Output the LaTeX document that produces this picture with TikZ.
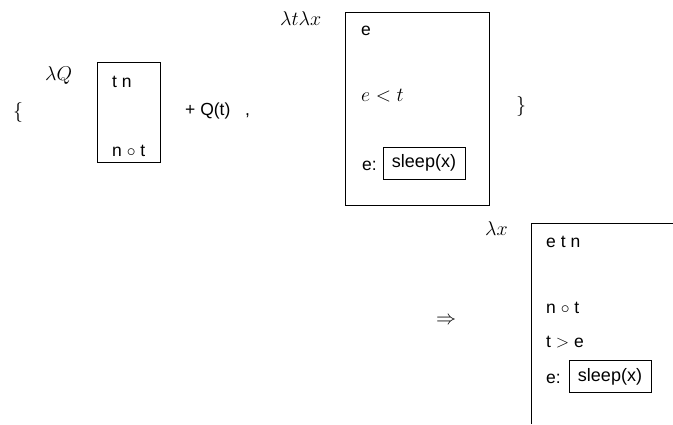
\RequirePackage{fix-cm}
\documentclass[tikz,border=0pt]{standalone}
\usepackage{fontspec}
\setsansfont{Liberation Sans}
\begin{document}
\begin{tikzpicture}[x=1pt,y=-1pt,
  sf/.style={inner sep=0pt,anchor=base west,font=\sffamily\fontsize{17.5}{20}\selectfont},
  mt/.style={inner sep=0pt,anchor=base west,font=\fontsize{20}{24}\selectfont},
  boxline/.style={draw=black,line width=0.9pt},
  inbox/.style={draw=black,line width=0.9pt,minimum width=82pt,minimum height=32pt,inner sep=0pt,font=\sffamily\fontsize{18}{20}\selectfont}]
\useasboundingbox (0,0) rectangle (673,424);
% left part
\node[mt] (lb) at (13,117) {$\{$};
\node[mt] (lq) at (45,80) {$\lambda Q$};
\draw[boxline] (97,62) rectangle (160,162);
\node[sf] (b1a) at (112,87) {t n};
\node[sf] (b1b) at (112,156) {n $\circ$ t};
\node[sf] (pq) at (185,115) {+ Q(t)};
\node[sf] (cm) at (245,115) {,};
% second box
\node[mt] (ltx) at (280,25) {$\lambda t\lambda x$};
\draw[boxline] (345,12) rectangle (489,205);
\node[sf] (b2a) at (361,35) {e};
\node[mt] (b2b) at (361,101) {$e<t$};
\node[sf] (b2c) at (362,170) {e:};
\node[inbox] (s1) at (424,163) {sleep(x)};
\node[mt] (rb) at (516,111) {$\}$};
% result
\node[mt] (lx) at (485,235) {$\lambda x$};
\node[mt] (arr) at (436,324) {$\Rightarrow$};
\draw[boxline] (531,424) -- (531,223) -- (673,223);
\node[sf] (b3a) at (546,247) {e t n};
\node[sf] (b3b) at (546,313) {n $\circ$ t};
\node[sf] (b3c) at (546,347) {t $>$ e};
\node[sf] (b3d) at (546,383) {e:};
\node[inbox] (s2) at (610,376.5) {sleep(x)};
\end{tikzpicture}
\end{document}
